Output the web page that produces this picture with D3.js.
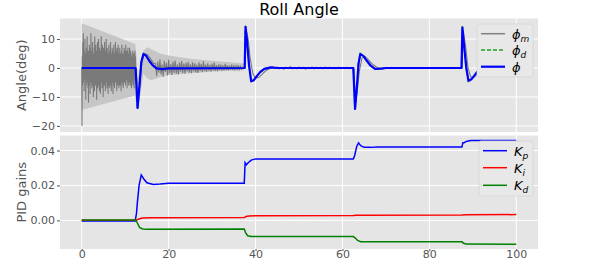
<!DOCTYPE html>
<html>
<head>
<meta charset="utf-8">
<script src="https://cdn.jsdelivr.net/npm/d3@7"></script>
<style>
  body { margin: 0; background: #fff; }
  svg { display: block; font-family: "DejaVu Sans", sans-serif; }
</style>
</head>
<body>
<svg id="chart" width="598" height="261"></svg>
<script>
// ---- data ----
var xTicks = [0, 20, 40, 60, 80, 100];
var angleTicks = [-20, -10, 0, 10];
var gainTicks = [0, 0.02, 0.04];

// phi (blue) and phi_d (green dashed) keyframes
var phiT = [0, 12.4, 12.85, 13.3, 13.7, 14.2, 14.8, 15.5, 16.3, 17.2, 18.5, 20, 37.5, 37.7, 38.0, 38.5, 39.0, 39.6, 40.3, 41.0, 42.0, 43.5, 45, 62.5, 62.9, 63.3, 63.7, 64.1, 64.8, 65.6, 66.5, 67.5, 69, 70, 87.4, 87.6, 87.9, 88.5, 89.0, 89.6, 90.3, 91.0, 92.0, 93.5, 95, 100];
var phiV = [0, 0, -13.8, -6, 2, 4.8, 4.3, 2.6, 1.0, -0.1, -0.4, -0.1, 0, 14.2, 10, 1, -4.6, -4.2, -2.8, -1.5, -0.3, 0.2, 0, 0, -14.1, -7, 1.5, 4.8, 4.2, 2.5, 0.8, -0.3, -0.2, 0, 0, 14, 9, 0, -4.4, -4, -2.7, -1.4, -0.3, 0.2, 0, 0];
var phiDV = [0, 0, -14.3, -6, 2, 5.0, 4.3, 2.6, 1.0, -0.1, -0.4, -0.1, 0, 14.6, 10, 1, -4.8, -4.2, -2.8, -1.5, -0.3, 0.2, 0, 0, -14.5, -7, 1.5, 5.0, 4.2, 2.5, 0.8, -0.3, -0.2, 0, 0, 14.5, 9, 0, -4.6, -4, -2.7, -1.4, -0.3, 0.2, 0, 0];

// phi_m: light envelope of the fast oscillation
var bandT = [0, 12.3, 12.5, 12.9, 13.5, 14.2, 15, 16, 18, 20, 25, 30, 35, 37.4];
var bandHi = [15.5, 8.3, 6, -4, 1, 6, 7.2, 6.5, 5, 4.3, 3.2, 2.5, 1.9, 1.6];
var bandLo = [-14.5, -9.5, -12, -14.5, -9, -2, -3.5, -4.2, -3.2, -2.4, -1.8, -1.3, -0.9, -0.8];

// phi_m: dark noisy trace, sampled every 0.0625 s from t = 0
var noise1 = [
    0, -20, 4, -6, 9, -3, 12, -5, 3, -8, 6, -4, 10, -2, 5, -11, 4, -6, 7, -3,
    11, -5, 3, -7, 6, -12, 5, -4, 8, -6, 2, -9, 7, -3, 12, -5, 4, -7, 6, -2,
    9, -6, 3, -10, 5, -4, 7, -8, 11, -3, 4, -6, 8, -5, 3, -11, 6, -4, 9, -7,
    5, -3, 10, -6, 4, -8, 7, -2, 6, -9, 3, -5, 11, -4, 5, -7, 8, -3, 4, -10,
    7, -5, 3, -6, 9, -4, 5, -8, 6, -3, 10, -5, 4, -7, 7, -2, 5, -9, 3, -6,
    8, -4, 6, -7, 4, -3, 9, -6, 5, -8, 3, -5, 7, -4, 6, -9, 4, -3, 8, -6,
    5, -7, 3, -4, 9, -5, 6, -3, 4, -8, 7, -5, 3, -6, 8, -4, 5, -7, 4, -3,
    7, -6, 5, -4, 3, -8, 6, -5, 8, -3, 4, -6, 5, -7, 3, -4, 7, -5, 6, -3,
    4, -6, 8, -4, 5, -3, 6, -7, 3, -5, 7, -4, 4, -6, 5, -3, 7, -5, 3, -6,
    6, -4, 5, -7, 3, -5, 4, -3, 6, -6, 5, -4, 3, -7, 5, -3, 6, -4, 4, -5
];
// phi_m first transient
var m1T = [12.5, 12.9, 13.4, 13.9, 14.4, 15.2, 16, 16.6];
var m1V = [0, -12.5, -5, 2.5, 5, 4.5, 2.8, 1.6];
// phi_m noise every 0.25 s from t = 17
var noise2 = [
    1.5, -2.8, 2.2, -1.6, 3.0, -2.2, 1.2, -3.0, 2.5, -1.4, 1.8, -2.6, 2.8, -1.8, 1.4, -2.4,
    2.2, -1.6, 2.6, -2.0, 1.2, -2.2, 1.9, -1.3, 2.4, -1.8, 1.5, -2.0, 1.8, -1.2, 2.1, -1.6,
    1.3, -1.8, 2.0, -1.2, 1.6, -1.5, 1.1, -1.7, 1.9, -1.0, 1.4, -1.4, 2.3, -1.1, 1.2, -1.3,
    1.6, -0.9, 1.1, -1.2, 1.5, -0.8, 1.9, -1.0, 1.0, -1.1, 1.3, -0.7, 1.2, -0.9, 0.9, -0.8,
    1.4, -0.7, 1.0, -0.8, 0.8, -0.6, 1.2, -0.7, 0.9, -0.6, 0.7, -0.5, 1.0, -0.5, 0.6, -0.4, 0.3
];
// phi_m second transient
var m2T = [37.5, 37.8, 38.3, 38.8, 39.4, 40, 40.8, 41.6, 42.5, 43.5];
var m2V = [0, 13.5, 10, 3, -2, -3.5, -3.2, -2, -0.8, 0];
// phi_m small noise every 0.5 s from t = 44
var noise3 = [0.3, -0.2, 0.4, -0.3, 0.2, -0.4, 0.3, -0.2, 0.5, -0.3, 0.2, -0.3, 0.4, -0.2, 0.3, -0.4, 0.2, -0.2, 0.4, -0.3, 0.3, -0.2, 0.2, -0.3, 0.4, -0.2, 0.3, -0.2, 0.2, -0.3, 0.3, -0.2, 0.2, -0.2, 0.3, -0.2, 0.1];
// phi_m third and fourth transients
var m3T = [62.6, 63.0, 63.4, 63.9, 64.5, 65.2, 66, 67, 68, 69, 87.5, 87.8, 88.3, 88.9, 89.5, 90.2, 91, 92, 93, 94, 100];
var m3V = [0, -12, -8, -1, 3.5, 4, 2.8, 1.2, 0.2, 0, 0, 13, 8, 0, -3, -3.3, -2.2, -1, -0.2, 0, 0];

// PID gains
var kpT = [0, 12.3, 12.6, 12.8, 13.2, 13.7, 14.2, 15, 16.5, 18, 20, 37.4, 37.6, 37.9, 38.3, 39, 40, 41, 62.5, 62.8, 63.3, 63.7, 64.2, 65, 66.5, 68, 87.5, 87.7, 88, 88.5, 89.5, 91, 100];
var kpV = [-0.0003, -0.0003, 0.004, 0.010, 0.020, 0.026, 0.024, 0.0215, 0.0206, 0.0208, 0.0212, 0.0213, 0.033, 0.0318, 0.033, 0.0345, 0.0352, 0.0352, 0.0352, 0.037, 0.0425, 0.0444, 0.0428, 0.0418, 0.0418, 0.042, 0.042, 0.0445, 0.0445, 0.0452, 0.0457, 0.0458, 0.0458];
var kiT = [0, 12.5, 13, 14, 16, 37.4, 37.8, 38.5, 40, 62.5, 63.2, 64.5, 87.5, 88.5, 100];
var kiV = [0, 0, 0.0006, 0.0013, 0.0015, 0.0016, 0.0022, 0.0025, 0.0026, 0.0028, 0.0029, 0.0030, 0.0031, 0.0032, 0.0033];
var kdT = [0, 12.4, 12.8, 13.3, 14, 15, 37.4, 37.7, 38.2, 39, 62.5, 62.9, 63.5, 64.2, 87.5, 87.8, 88.4, 100];
var kdV = [0.0002, 0.0002, -0.0015, -0.004, -0.0049, -0.0051, -0.0050, -0.007, -0.0088, -0.0092, -0.0093, -0.010, -0.0115, -0.0122, -0.0123, -0.013, -0.0136, -0.0137];

// ---- layout ----
var svg = d3.select("#chart");
var left = 60, right = 538;
var top1 = 18.5, bot1 = 132, top2 = 135.5, bot2 = 249;

var x = d3.scaleLinear().domain([-5, 105]).range([left, right]);
var yA = d3.scaleLinear().domain([-22.1, 17.1]).range([bot1, top1]);
var yG = d3.scaleLinear().domain([-0.0164, 0.0486]).range([bot2, top2]);

function zip(ts, vs) { return ts.map(function(t, i) { return [t, vs[i]]; }); }
function sampled(vs, t0, dt) { return vs.map(function(v, i) { return [t0 + i * dt, v]; }); }

var phiM = [].concat(sampled(noise1, 0, 0.0625), zip(m1T, m1V), sampled(noise2, 17, 0.25),
                     zip(m2T, m2V), sampled(noise3, 44, 0.5), zip(m3T, m3V));

function styleAxis(ax) {
    ax.select(".domain").remove();
    ax.selectAll("line").attr("stroke", "#555");
    ax.selectAll("text").attr("fill", "#555").style("font-size", "11px").style("font-family", "DejaVu Sans");
}

function panel(y0, y1, yScale, ticks, fmt, id) {
    svg.append("rect").attr("x", left).attr("y", y0).attr("width", right - left).attr("height", y1 - y0).attr("fill", "#e5e5e5");
    svg.append("clipPath").attr("id", id).append("rect").attr("x", left).attr("y", y0).attr("width", right - left).attr("height", y1 - y0);
    var g = svg.append("g");
    g.selectAll(".vg").data(xTicks).enter().append("line")
        .attr("x1", function(d) { return x(d); }).attr("x2", function(d) { return x(d); })
        .attr("y1", y0).attr("y2", y1).attr("stroke", "#fff").attr("stroke-width", 1);
    g.selectAll(".hg").data(ticks).enter().append("line")
        .attr("x1", left).attr("x2", right)
        .attr("y1", function(d) { return yScale(d); }).attr("y2", function(d) { return yScale(d); })
        .attr("stroke", "#fff").attr("stroke-width", 1);
    var ax = svg.append("g").attr("transform", "translate(" + left + ",0)")
        .call(d3.axisLeft(yScale).tickValues(ticks).tickSize(3).tickPadding(2).tickFormat(fmt));
    styleAxis(ax);
    return svg.append("g").attr("clip-path", "url(#" + id + ")");
}

var line = function(yScale) {
    return d3.line().x(function(d) { return x(d[0]); }).y(function(d) { return yScale(d[1]); });
};

// top panel
var p1 = panel(top1, bot1, yA, angleTicks, d3.format("d"), "c1");
p1.append("path")
    .datum(bandT.map(function(t, i) { return [t, bandLo[i], bandHi[i]]; }))
    .attr("d", d3.area().x(function(d) { return x(d[0]); }).y0(function(d) { return yA(d[1]); }).y1(function(d) { return yA(d[2]); }))
    .attr("fill", "#c6c6c6");
p1.append("path").datum(phiM).attr("d", line(yA))
    .attr("fill", "none").attr("stroke", "#7a7a7a").attr("stroke-width", 1.1);
p1.append("path").datum(zip(phiT, phiDV)).attr("d", line(yA))
    .attr("fill", "none").attr("stroke", "#22a022").attr("stroke-width", 1.6).attr("stroke-dasharray", "4,2");
p1.append("path").datum(zip(phiT, phiV)).attr("d", line(yA))
    .attr("fill", "none").attr("stroke", "#0000ff").attr("stroke-width", 2.2).attr("stroke-linejoin", "round");

// bottom panel
var p2 = panel(top2, bot2, yG, gainTicks, d3.format(".2f"), "c2");
p2.append("path").datum(zip(kpT, kpV)).attr("d", line(yG))
    .attr("fill", "none").attr("stroke", "#0000ff").attr("stroke-width", 1.5);
p2.append("path").datum(zip(kiT, kiV)).attr("d", line(yG))
    .attr("fill", "none").attr("stroke", "#ff0000").attr("stroke-width", 1.5);
p2.append("path").datum(zip(kdT, kdV)).attr("d", line(yG))
    .attr("fill", "none").attr("stroke", "#008000").attr("stroke-width", 1.5);

// x tick labels squeezed up a little so they stay inside the window
var xa = svg.append("g").attr("transform", "translate(0," + bot2 + ")")
    .call(d3.axisBottom(x).tickValues(xTicks).tickSize(2).tickPadding(0).tickFormat(d3.format("d")));
styleAxis(xa);
xa.selectAll("text").attr("dy", "0.62em");

// labels
svg.append("text").attr("x", 299).attr("y", 15).attr("text-anchor", "middle")
    .style("font-size", "16px").attr("fill", "#000").text("Roll Angle");
svg.append("text").attr("transform", "translate(26," + ((top1 + bot1) / 2) + ") rotate(-90)")
    .attr("text-anchor", "middle").style("font-size", "13px").attr("fill", "#555").text("Angle(deg)");
svg.append("text").attr("transform", "translate(26," + ((top2 + bot2) / 2) + ") rotate(-90)")
    .attr("text-anchor", "middle").style("font-size", "13px").attr("fill", "#555").text("PID gains");

// legends
function legend(bx, by, bw, bh, items) {
    svg.append("rect").attr("x", bx).attr("y", by).attr("width", bw).attr("height", bh)
        .attr("rx", 2).attr("fill", "#e8e8e8").attr("stroke", "#d6d6d6").attr("stroke-width", 0.8);
    items.forEach(function(it) {
        svg.append("line").attr("x1", bx + 4).attr("x2", bx + 28).attr("y1", it.y).attr("y2", it.y)
            .attr("stroke", it.color).attr("stroke-width", it.w).attr("stroke-dasharray", it.dash || null);
        var t = svg.append("text").attr("x", bx + 35).attr("y", it.y + 5)
            .style("font-size", "13px").style("font-style", "italic").attr("fill", "#000");
        t.append("tspan").text(it.main);
        if (it.sub) t.append("tspan").attr("dy", 3).style("font-size", "9px").text(it.sub);
    });
}
legend(477, 24, 56, 53, [
    {y: 33.7, color: "#808080", w: 1.5, main: "\u03d5", sub: "m"},
    {y: 50, color: "#22a022", w: 1.6, dash: "4,2", main: "\u03d5", sub: "d"},
    {y: 66.7, color: "#0000ff", w: 2.2, main: "\u03d5"}
]);
legend(479, 141, 54, 55, [
    {y: 150.7, color: "#0000ff", w: 1.5, main: "K", sub: "p"},
    {y: 167.7, color: "#ff0000", w: 1.5, main: "K", sub: "i"},
    {y: 185.3, color: "#008000", w: 1.5, main: "K", sub: "d"}
]);
</script>
</body>
</html>
